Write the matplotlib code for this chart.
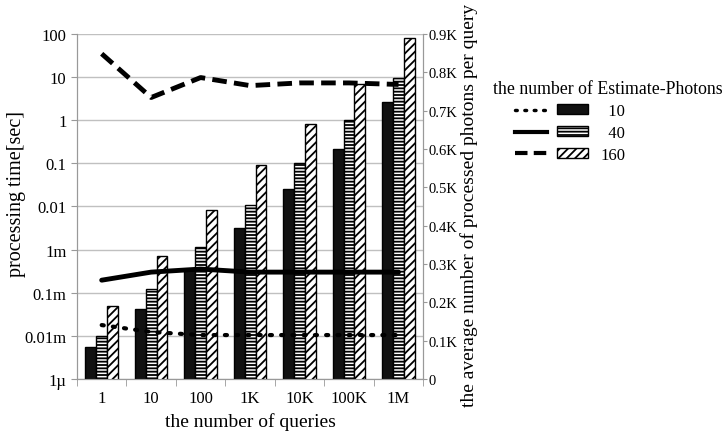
import matplotlib
matplotlib.use('Agg')
import matplotlib.pyplot as plt
import numpy as np
from matplotlib.legend_handler import HandlerTuple
from matplotlib.patches import Patch
from matplotlib.lines import Line2D

plt.rcParams['font.family'] = ['Liberation Serif', 'DejaVu Serif']
plt.rcParams['hatch.linewidth'] = 1.3

# dados
consultas = ['1', '10', '100', '1K', '10K', '100K', '1M']
tempo_10 = [5.5e-6, 4.2e-5, 3.6e-4, 3.2e-3, 0.026, 0.22, 2.6]
tempo_40 = [1.0e-5, 1.2e-4, 1.15e-3, 0.011, 0.1, 1.0, 9.5]
tempo_160 = [5.0e-5, 7.2e-4, 8.5e-3, 0.09, 0.8, 7.0, 80]
fotons_10 = [141, 123, 115, 115, 115, 115, 115]
fotons_40 = [258, 279, 287, 279, 279, 279, 279]
fotons_160 = [848, 734, 786, 765, 772, 772, 768]

ytick_vals = [1e-6, 1e-5, 1e-4, 1e-3, 1e-2, 1e-1, 1, 10, 100]
ytick_labels = ['1µ', '0.01m', '0.1m', '1m', '0.01', '0.1', '1', '10', '100']
y2tick_vals = [0, 100, 200, 300, 400, 500, 600, 700, 800, 900]
y2tick_labels = ['0', '0.1K', '0.2K', '0.3K', '0.4K', '0.5K', '0.6K', '0.7K', '0.8K', '0.9K']

fig = plt.figure(figsize=(7.26, 4.35), dpi=100)
ax = fig.add_axes([0.106, 0.126, 0.477, 0.794])

x = np.arange(len(consultas))
w = 0.22
ax.bar(x - w, tempo_10, w, color='#111111', edgecolor='black', linewidth=1, zorder=3)
ax.bar(x, tempo_40, w, color='white', edgecolor='black', hatch='-----', linewidth=1, zorder=3)
ax.bar(x + w, tempo_160, w, color='white', edgecolor='black', hatch='////', linewidth=1, zorder=3)

ax.set_yscale('log')
ax.set_ylim(1e-6, 100)
ax.set_xlim(-0.5, len(consultas) - 0.5)
ax.set_yticks(ytick_vals)
ax.set_yticklabels(ytick_labels)
ax.minorticks_off()
ax.set_xticks(x)
ax.set_xticklabels(consultas)
ax.set_xticks(np.arange(len(consultas) + 1) - 0.5, minor=True)
ax.tick_params(axis='x', which='major', length=0, labelsize=12, pad=8)
ax.tick_params(axis='x', which='minor', length=5, color='#999999')
ax.tick_params(axis='y', length=4, color='#999999', labelsize=12)
ax.grid(axis='y', color='#c0c0c0', linewidth=1, zorder=0)
for s in ['left', 'bottom', 'right']:
    ax.spines[s].set_color('#999999')
ax.spines['top'].set_visible(False)
ax.set_xlabel('the number of queries', fontsize=14, labelpad=4)
ax.set_ylabel('processing time[sec]', fontsize=14.5)
ax.yaxis.set_label_coords(-0.148, 0.54)

ax2 = ax.twinx()
ax2.plot(x, fotons_10, color='black', linewidth=3, linestyle=(0, (0.5, 2.2)), dash_capstyle='round')
ax2.plot(x, fotons_40, color='black', linewidth=3.5, solid_capstyle='round')
ax2.plot(x, fotons_160, color='black', linewidth=3.5, linestyle=(0, (3, 1.5)))
ax2.set_ylim(0, 900)
ax2.set_yticks(y2tick_vals)
ax2.set_yticklabels(y2tick_labels)
ax2.tick_params(axis='y', length=3, color='#999999', labelsize=10.5, pad=1)
for s in ['left', 'bottom', 'right']:
    ax2.spines[s].set_color('#999999')
ax2.spines['top'].set_visible(False)
ax2.set_ylabel('the average number of processed photons per query', fontsize=14)
ax2.yaxis.set_label_coords(1.107, 0.507)

h1 = (Line2D([], [], color='black', linewidth=2.5, linestyle=(0, (0.5, 2.2)), dash_capstyle='round'),
      Patch(facecolor='#111111', edgecolor='black'))
h2 = (Line2D([], [], color='black', linewidth=3),
      Patch(facecolor='white', edgecolor='black', hatch='-----'))
h3 = (Line2D([], [], color='black', linewidth=3, linestyle=(0, (3, 1.5))),
      Patch(facecolor='white', edgecolor='black', hatch='////'))
fig.legend([h1, h2, h3], ['  10', '  40', '160'],
           handler_map={tuple: HandlerTuple(ndivide=None, pad=0.6)},
           fontsize=12, frameon=False, loc='upper left',
           bbox_to_anchor=(515 / 726, 1 - 104 / 435), borderpad=0, borderaxespad=0,
           handlelength=4.4, handleheight=0.5, labelspacing=0.35, handletextpad=0.7)
fig.text(493 / 726, 1 - 89 / 435, 'the number of Estimate-Photons',
         fontsize=12.8, va='center', ha='left')

fig.savefig('out.png', dpi=100)
